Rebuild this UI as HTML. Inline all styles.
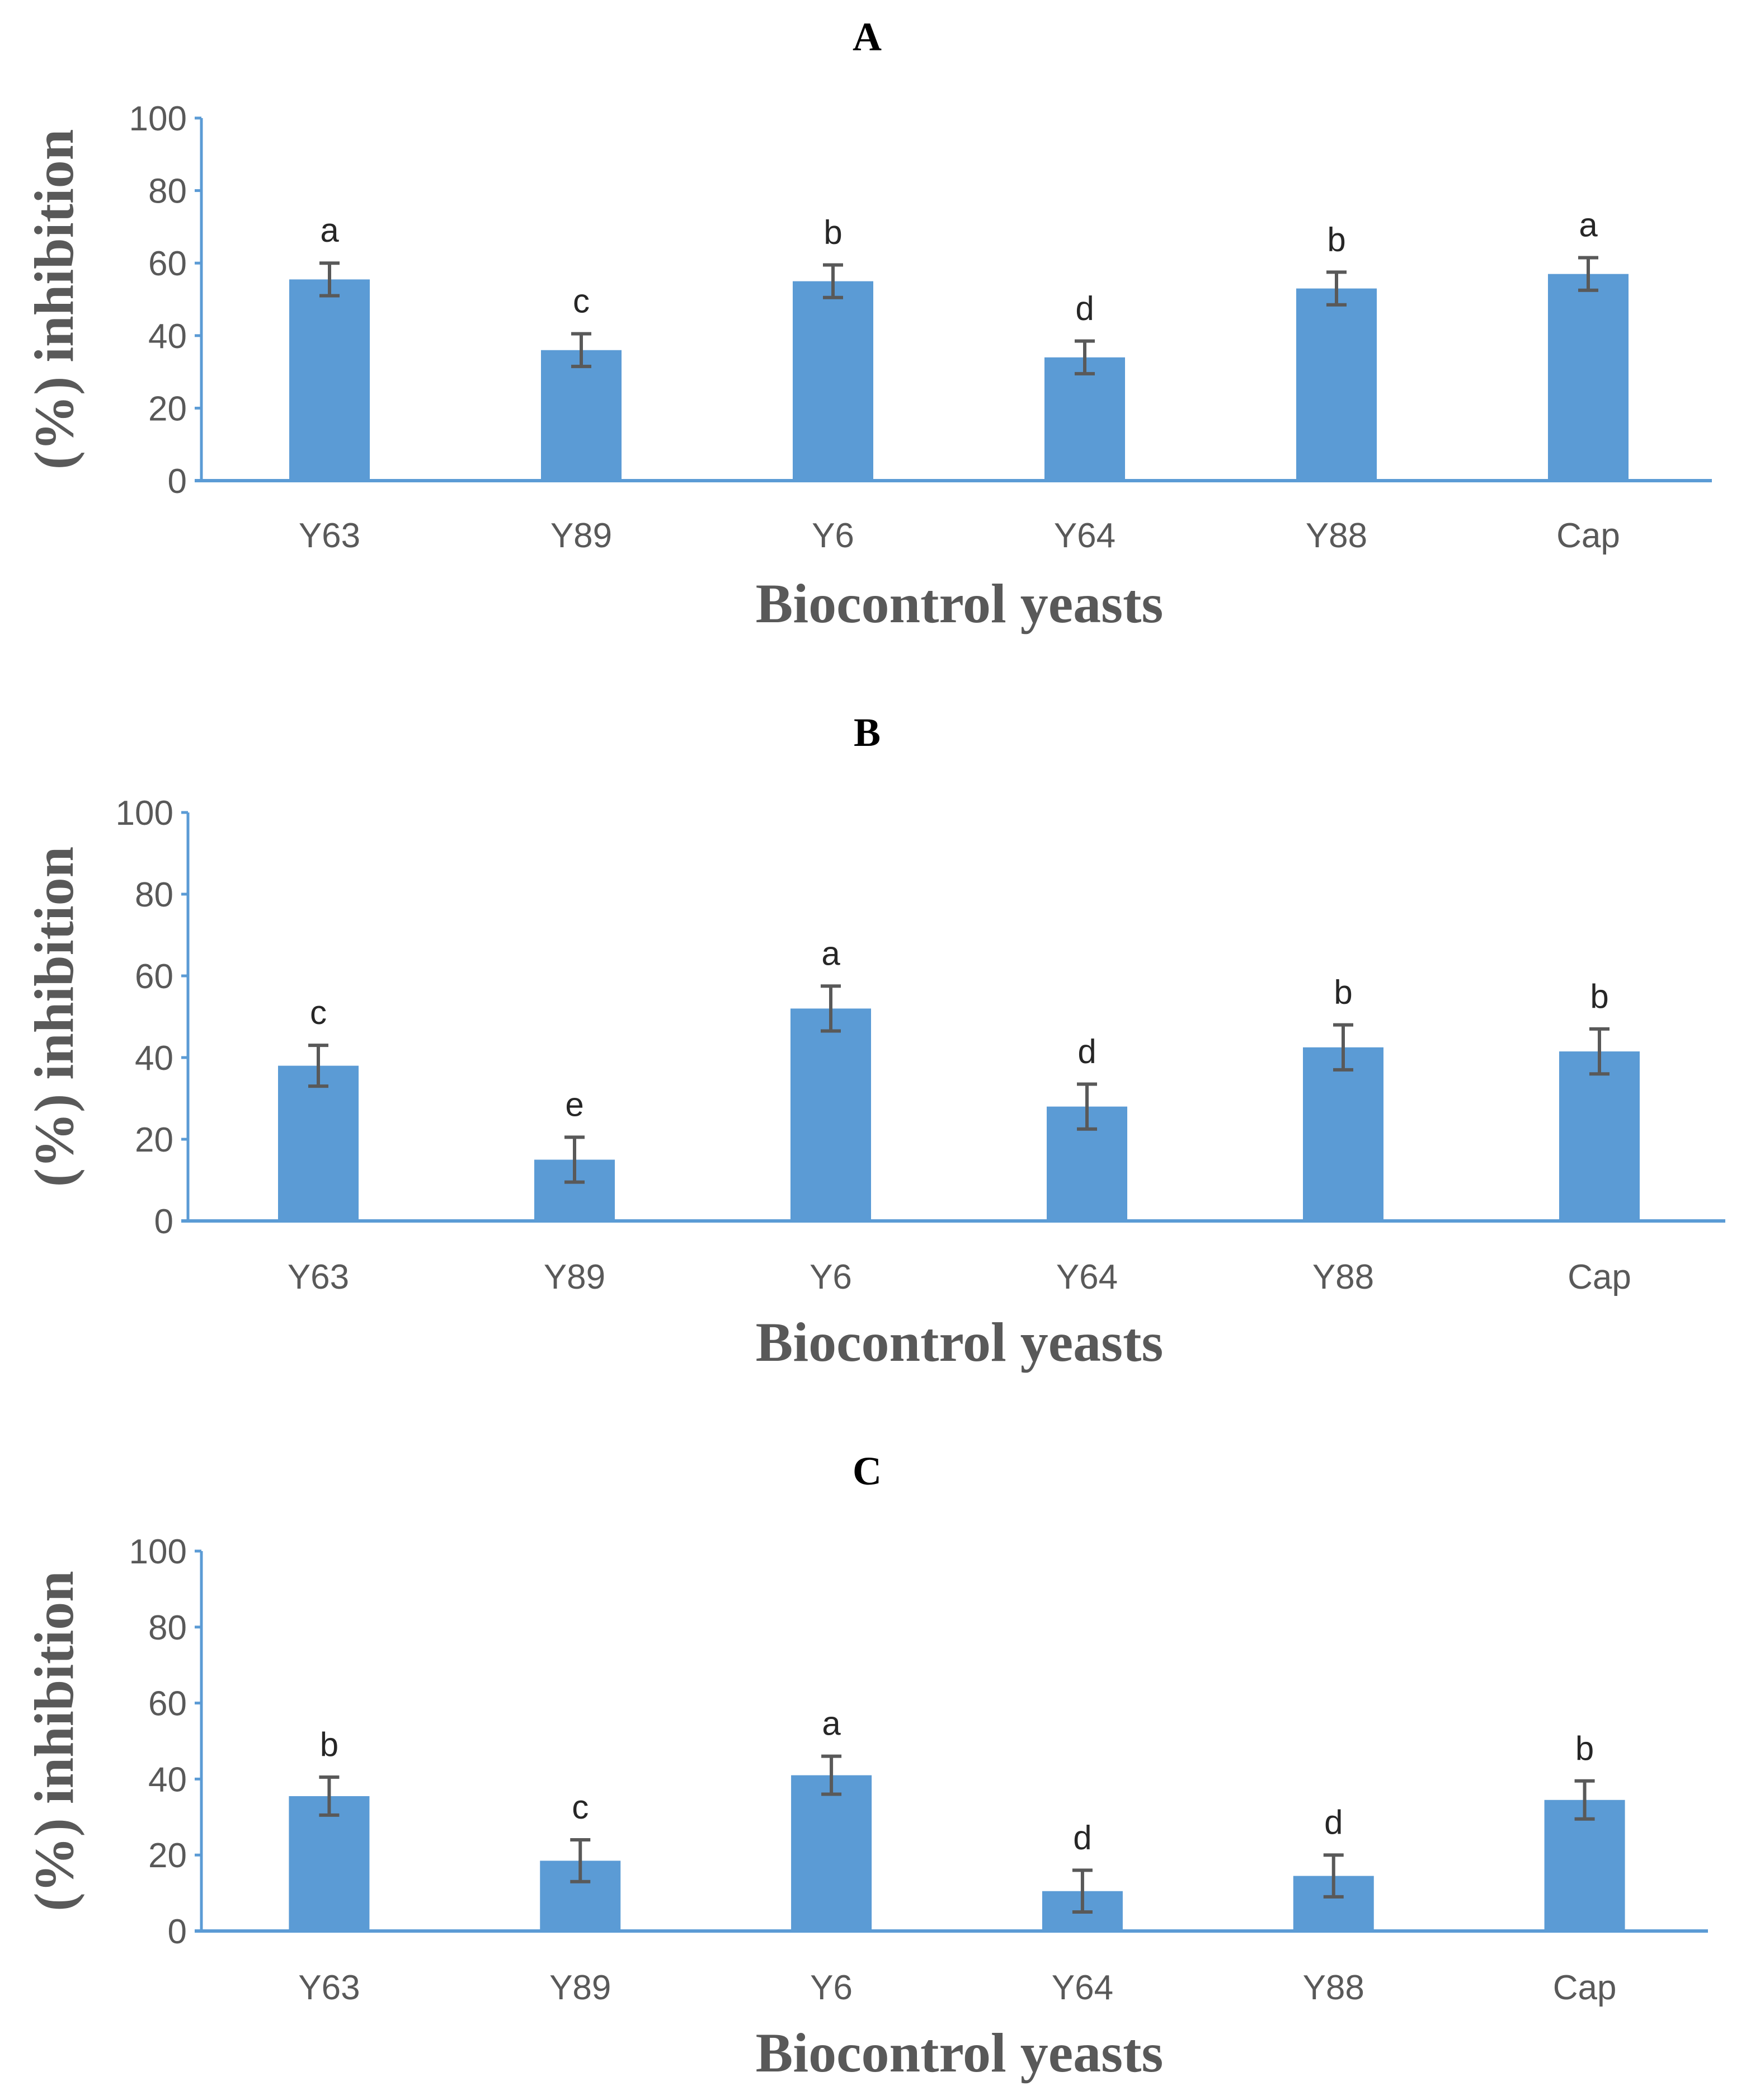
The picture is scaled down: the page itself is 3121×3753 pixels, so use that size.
<!DOCTYPE html>
<html><head><meta charset="utf-8"><style>
html,body{margin:0;padding:0;background:#fff;}
svg{display:block;}
</style></head><body>
<svg id="fig" width="3121" height="3753" viewBox="0 0 3121 3753" xmlns="http://www.w3.org/2000/svg"></svg>
<script>
const categories = ["Y63","Y89","Y6","Y64","Y88","Cap"];
const valuesA = [55.5, 36, 55, 34, 53, 57];
const valuesB = [38, 15, 52, 28, 42.5, 41.5];
const valuesC = [35.5, 18.5, 41, 10.5, 14.5, 34.5];
const errA = [4.5, 4.5, 4.5, 4.5, 4.5, 4.5];
const errB = [5, 5.5, 5.5, 5.5, 5.5, 5.5];
const errC = [5, 5.5, 5, 5.5, 5.5, 5];
const lettersA = ["a","c","b","d","b","a"];
const lettersB = ["c","e","a","d","b","b"];
const lettersC = ["b","c","a","d","d","b"];
const yTicks = [0, 20, 40, 60, 80, 100];

const panels = [
  {id:"a", title:"A", vals:valuesA, err:errA, let:lettersA, x0:360, x1:3060, yTop:211, yBot:859, titleY:90, tickY:978, axY:1112},
  {id:"b", title:"B", vals:valuesB, err:errB, let:lettersB, x0:336, x1:3084, yTop:1452, yBot:2182, titleY:1333, tickY:2303, axY:2432},
  {id:"c", title:"C", vals:valuesC, err:errC, let:lettersC, x0:360, x1:3053, yTop:2772, yBot:3451, titleY:2653, tickY:3573, axY:3702}
];
const NS = "http://www.w3.org/2000/svg";
const svg = document.getElementById('fig');
function mk(tag, attrs, parent){
  const e = document.createElementNS(NS, tag);
  for (const k in attrs) e.setAttribute(k, attrs[k]);
  (parent||svg).appendChild(e);
  return e;
}
panels.forEach(p => {
  const g = mk('g', {});
  
  
  const yS = v => p.yBot - (v/100)*(p.yBot - p.yTop);
  const band = (p.x1 - p.x0)/categories.length;
  const xS = i => p.x0 + band*(i+0.5) + 4;
  const t = mk('text', {x:1550, y:p.titleY, 'font-family':'Liberation Serif, serif', 'font-weight':'bold', 'font-size':72, 'text-anchor':'middle', fill:'#000'}, g);
  t.textContent = p.title;
  
  
  const ya = mk('line', {x1:p.x0, y1:p.yTop, x2:p.x0, y2:p.yBot, stroke:'#5b9bd5', 'stroke-width':5}, g);
  
  
  yTicks.forEach(v => {
    mk('line', {x1:p.x0-12, y1:yS(v), x2:p.x0, y2:yS(v), stroke:'#5b9bd5', 'stroke-width':5}, g);
    const tl = mk('text', {x:p.x0-26, y:yS(v)+22, 'font-family':'Liberation Sans, sans-serif', 'font-size':62, 'text-anchor':'end', fill:'#595959'}, g);
    tl.textContent = v;
    
    
  });
  categories.forEach((c, i) => {
    const v = p.vals[i], e = p.err[i], x = xS(i), w = 144;
    const b = mk('rect', {x:x-w/2, y:yS(v), width:w, height:p.yBot-yS(v), fill:'#5b9bd5'}, g);
    
    
    const eb = mk('path', {d:`M${x},${yS(v+e)}V${yS(v-e)}M${x-18},${yS(v+e)}H${x+18}M${x-18},${yS(v-e)}H${x+18}`, stroke:'#595959', 'stroke-width':6, fill:'none'}, g);
    
    
    const lt = mk('text', {x:x, y:yS(v+e)-38, 'font-family':'Liberation Sans, sans-serif', 'font-size':60, 'text-anchor':'middle', fill:'#262626'}, g);
    lt.textContent = p.let[i];
    
    
    const cl = mk('text', {x:x, y:p.tickY, 'font-family':'Liberation Sans, sans-serif', 'font-size':62, 'text-anchor':'middle', fill:'#595959'}, g);
    cl.textContent = c;
    
    
  });
  const xa = mk('line', {x1:p.x0-12, y1:p.yBot, x2:p.x1, y2:p.yBot, stroke:'#5b9bd5', 'stroke-width':6}, g);
  
  
  const xt = mk('text', {x:1715, y:p.axY, 'font-family':'Liberation Serif, serif', 'font-weight':'bold', 'font-size':100, 'text-anchor':'middle', fill:'#595959'}, g);
  xt.textContent = 'Biocontrol yeasts';
  
  
  const cy = (p.yTop + p.yBot)/2;
  const yt = mk('text', {x:0, y:0, transform:`translate(130,${cy}) rotate(-90)`, 'font-family':'Liberation Serif, serif', 'font-weight':'bold', 'font-size':100, 'text-anchor':'middle', fill:'#595959'}, g);
  yt.textContent = '(%) inhibition';
  
  
});
</script>
</body></html>
